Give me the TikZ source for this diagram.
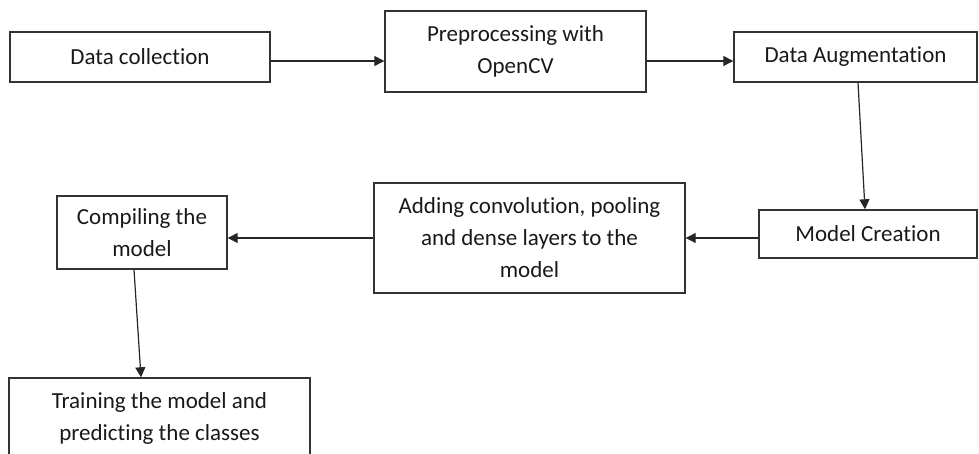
\documentclass[tikz,border=0pt]{standalone}
\usepackage{fontspec}
\setmainfont{Carlito}[Ligatures={NoCommon,NoRare}]
\usetikzlibrary{arrows.meta}
\begin{document}
\begin{tikzpicture}[x=1pt,y=-1pt,
  box/.style={draw=black!80, line width=1.4pt, inner sep=0pt, align=center,
    font=\fontsize{23}{32}\selectfont, text=black!90},
  arr/.style={draw=black!85, line width=1.2pt, -{Triangle[length=10pt,width=10pt]}}]
\useasboundingbox (0,0) rectangle (979,454);
\clip (0,0) rectangle (979,454);
\node[box, minimum width=260, minimum height=50] (dc) at (140,57) {Data collection};
\node[box, minimum width=261, minimum height=81] (pre) at (515.5,51.5) {Preprocessing with\\OpenCV};
\node[box, minimum width=243, minimum height=50] (aug) at (855.5,57) {Data Augmentation};
\node[box, minimum width=218, minimum height=48] (model) at (868,234) {Model Creation};
\node[box, minimum width=311, minimum height=110] (add) at (529.5,238) {Adding convolution, pooling\\and dense layers to the\\model};
\node[box, minimum width=170, minimum height=73] (comp) at (142,232.5) {Compiling the\\model};
\node[box, minimum width=301, minimum height=80] (train) at (159.5,418) {Training the model and\\predicting the classes};
\draw[arr] ([yshift=-4pt]dc.east) -- ([yshift=-4pt]dc.east -| pre.west);
\draw[arr] ([yshift=-9.5pt]pre.east) -- ([yshift=-9.5pt]pre.east -| aug.west);
\draw[arr] ([xshift=2.5pt]aug.south) -- ([xshift=-3pt]model.north);
\draw[arr] (add.east -| model.west) -- (add.east);
\draw[arr] (add.west) -- (add.west -| comp.east);
\draw[arr] ([xshift=-8pt]comp.south) -- ([xshift=-18.5pt]train.north);
\end{tikzpicture}
\end{document}
